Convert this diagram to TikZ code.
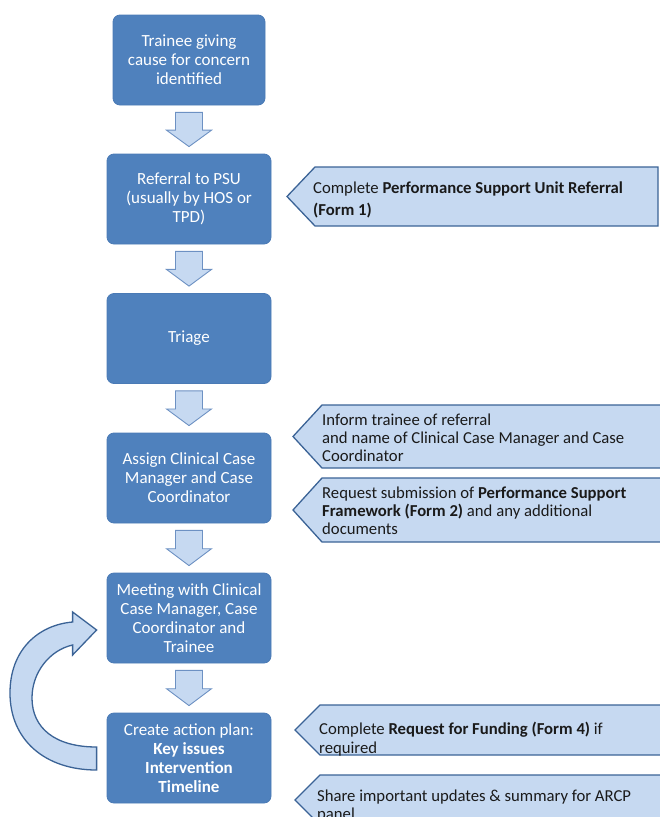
\documentclass[tikz,border=0pt]{standalone}
\usepackage{fontspec}
\setmainfont{Carlito}
\usetikzlibrary{calc}
\definecolor{boxblue}{HTML}{4F81BD}
\definecolor{boxline}{HTML}{4A7AB5}
\definecolor{lightfill}{HTML}{C6D9F1}
\definecolor{darkline}{HTML}{3B6396}
\definecolor{arrline}{HTML}{6D91C3}
\definecolor{calltext}{HTML}{1A1A1A}
\tikzset{
  flowbox/.style={draw=boxline, line width=0.8pt, fill=boxblue, rounded corners=7pt,
    minimum width=164pt, minimum height=90pt, text=white, align=center,
    inner sep=0pt, font=\fontsize{17}{19}\selectfont},
  downarr/.style={draw=arrline, line width=0.9pt, fill=lightfill, line join=miter},
  callshape/.style={draw=darkline, line width=1.3pt, fill=lightfill, line join=miter},
  calltxt/.style={anchor=west, align=left, inner sep=0pt, text=calltext,
    font=\fontsize{16.7}{18}\selectfont},
  looparr/.style={draw=darkline, line width=1.3pt, fill=lightfill, line join=miter}
}
\newcommand{\flowarrow}[2]{%
  \coordinate (fa-t) at ($(#1.south)+(0,7)$);
  \coordinate (fa-b) at ($(#2.north)+(0,-7)$);
  \coordinate (fa-m) at ($(fa-t)!0.52!(fa-b)$);
  \draw[downarr] ($(fa-t)+(-13.5,0)$) -- ($(fa-t)+(13.5,0)$) -- ($(fa-m)+(13.5,0)$)
    -- ($(fa-m)+(22.5,0)$) -- (fa-b) -- ($(fa-m)+(-22.5,0)$) -- ($(fa-m)+(-13.5,0)$) -- cycle;}
\newcommand{\callout}[5]{% tip x, bevel x, top y, bottom y, right x
  \draw[callshape] (#5,#3) -- (#2,#3) -- (#1,{(#3+#4)/2}) -- (#2,#4) -- (#5,#4) -- cycle;}
\begin{document}
\begin{tikzpicture}[x=1pt, y=-1pt]
\useasboundingbox (0,0) rectangle (660,817);

% main flow boxes
\node[flowbox, minimum width=152pt] (b1) at (189,60) {Trainee giving\\cause for concern\\identified};
\node[flowbox] (b2) at (189,199) {Referral to PSU\\(usually by HOS or\\TPD)};
\node[flowbox] (b3) at (189,338.5) {Triage};
\node[flowbox] (b4) at (189,478) {Assign Clinical Case\\Manager and Case\\Coordinator};
\node[flowbox] (b5) at (189,618) {Meeting with Clinical\\Case Manager, Case\\Coordinator and\\Trainee};
\node[flowbox] (b6) at (189,758) {Create action plan:\\\textbf{Key issues}\\\textbf{Intervention}\\\textbf{Timeline}};

% block arrows between boxes
\flowarrow{b1}{b2}
\flowarrow{b2}{b3}
\flowarrow{b3}{b4}
\flowarrow{b4}{b5}
\flowarrow{b5}{b6}

% loop arrow from action plan back to meeting
\coordinate (lp-tail) at ($(b6.west)+(-10,0)$);
\coordinate (lp-tip) at ($(b5.west)+(-10,12)$);
\draw[looparr] ($(lp-tail)+(0,12)$)
  .. controls (45,770) and (10,740) .. (10,693)
  .. controls (10,650) and (38,625) .. ($(lp-tip)+(-24,-8)$)
  -- ($(lp-tip)+(-24,-18)$) -- (lp-tip) -- ($(lp-tip)+(-24,25)$) -- ($(lp-tip)+(-24,15)$)
  .. controls (50,650) and (32,672) .. (32,698)
  .. controls (32,728) and (55,747) .. ($(lp-tail)+(0,-11)$) -- cycle;

% callouts
\callout{287}{315}{167}{226}{658}
\node[calltxt, font=\fontsize{16.7}{21.5}\selectfont] (c1) at (313,200)
  {Complete \textbf{Performance Support Unit Referral}\\\textbf{(Form 1)}};
\callout{293}{322}{405}{468}{672}
\node[calltxt] (c2) at (322,438)
  {Inform trainee of referral\\and name of Clinical Case Manager and Case\\Coordinator};
\callout{293}{322}{478}{542}{672}
\node[calltxt] (c3) at (322,511)
  {Request submission of \textbf{Performance Support}\\\textbf{Framework (Form 2)} and any additional\\documents};
\callout{295}{320}{705}{755}{672}
\node[calltxt, font=\fontsize{16.7}{18.5}\selectfont] (c4) at (319,739)
  {Complete \textbf{Request for Funding} \textbf{(Form 4)} if\\required};
\callout{295}{320}{775}{825}{672}
\node[calltxt] (c5) at (317,806)
  {Share important updates \& summary for ARCP\\panel};
\end{tikzpicture}
\end{document}
